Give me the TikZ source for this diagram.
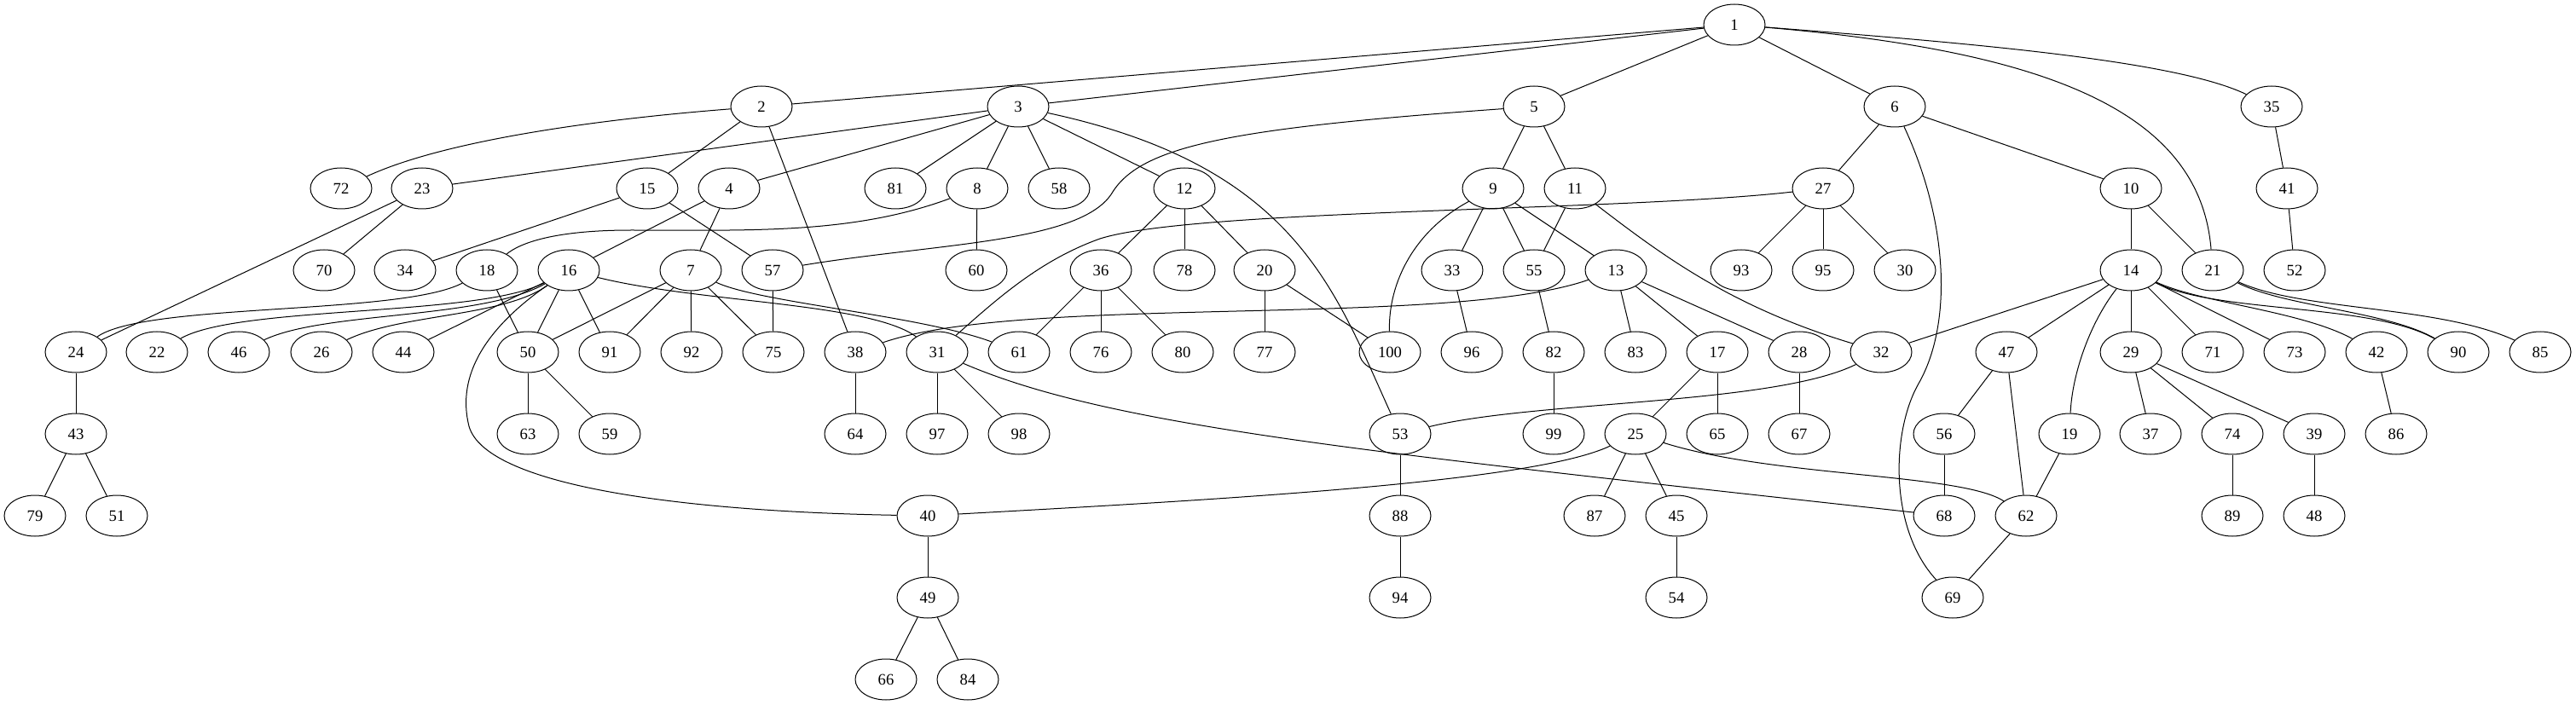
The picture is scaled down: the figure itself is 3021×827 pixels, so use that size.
\documentclass[tikz,border=0pt]{standalone}
\usepackage{fontspec}
\setmainfont{Liberation Serif}
\usetikzlibrary{shapes.geometric}
\begin{document}
\begin{tikzpicture}[x=0.75pt,y=-0.75pt,
  vx/.style={draw,ellipse,line width=0.75pt,minimum width=54pt,minimum height=36pt,inner sep=0pt,font=\fontsize{14}{16}\selectfont},
  ed/.style={line width=0.75pt}]
\useasboundingbox (0,0) rectangle (3021,827);
\foreach \n/\x/\r in {
 1/2034/0,
 2/893/1, 3/1194/1, 5/1799/1, 6/2222/1, 35/2664/1,
 72/400/2, 23/495/2, 15/759/2, 4/855/2, 81/1050/2, 8/1146/2, 58/1242/2, 12/1389/2, 9/1751/2, 11/1847/2, 27/2138/2, 10/2499/2, 41/2682/2,
 70/380/3, 34/475/3, 18/571/3, 16/667/3, 7/810/3, 57/906/3, 60/1145/3, 36/1291/3, 78/1389/3, 20/1483/3, 33/1703/3, 55/1799/3, 13/1895/3, 93/2042/3, 95/2138/3, 30/2234/3, 14/2499/3, 21/2595/3, 52/2691/3,
 24/89/4, 22/184/4, 46/280/4, 26/377/4, 44/473/4, 50/619/4, 91/715/4, 92/811/4, 75/907/4, 38/1003/4, 31/1099/4, 61/1195/4, 76/1291/4, 80/1387/4, 77/1483/4, 100/1630/4, 96/1726/4, 82/1822/4, 83/1918/4, 17/2014/4, 28/2110/4, 32/2206/4, 47/2353/4, 29/2499/4, 71/2595/4, 73/2691/4, 42/2787/4, 90/2883/4, 85/2979/4,
 43/89/5, 63/619/5, 59/715/5, 64/1003/5, 97/1099/5, 98/1195/5, 53/1642/5, 99/1822/5, 25/1918/5, 65/2014/5, 67/2110/5, 56/2280/5, 19/2427/5, 37/2522/5, 74/2618/5, 39/2714/5, 86/2810/5,
 79/41/6, 51/137/6, 40/1088/6, 88/1642/6, 87/1870/6, 45/1966/6, 68/2280/6, 62/2376/6, 89/2618/6, 48/2714/6,
 49/1088/7, 94/1642/7, 54/1966/7, 69/2290/7,
 66/1039/8, 84/1135/8}
 \node[vx] (n\n) at (\x,{29+96*\r}) {\n};
% straight edges
\foreach \a/\b in {1/2, 1/3, 1/5, 1/6, 2/15, 2/38, 3/23, 3/4, 3/81, 3/8, 3/58, 3/12, 5/9, 5/11, 6/27, 6/10, 35/41, 41/52, 23/70, 23/24, 15/34, 15/57, 4/16, 4/7, 8/60, 12/36, 12/78, 12/20, 9/33, 9/55, 9/13, 11/55, 27/93, 27/95, 27/30, 10/14, 10/21, 18/50, 16/44, 16/50, 16/91, 7/50, 7/91, 7/92, 7/75, 57/75, 36/61, 36/76, 36/80, 20/77, 20/100, 33/96, 55/82, 82/99, 13/83, 13/17, 13/28, 14/32, 14/47, 14/29, 14/71, 14/73, 17/25, 17/65, 28/67, 24/43, 43/79, 43/51, 50/63, 50/59, 38/64, 31/97, 31/98, 40/49, 49/66, 49/84, 53/88, 88/94, 25/87, 25/45, 45/54, 47/56, 47/62, 56/68, 19/62, 62/69, 29/37, 29/74, 29/39, 74/89, 39/48, 42/86}
 \draw[ed] (n\a) -- (n\b);
% curved edges
\draw[ed] (n1) .. controls (2300,50) and (2550,70) .. (n35);
\draw[ed] (n1) .. controls (2400,60) and (2580,130) .. (n21);
\draw[ed] (n2) .. controls (700,140) and (520,165) .. (n72);
\draw[ed] (n3) .. controls (1520,195) and (1565,340) .. (n53);
\draw[ed] (n5) .. controls (1450,150) and (1340,170) .. (1305,225) .. controls (1270,285) and (1100,285) .. (n57);
\draw[ed] (n8) .. controls (1000,275) and (880,270) .. (740,270) .. controls (650,270) and (610,285) .. (n18);
\draw[ed] (n18) .. controls (470,370) and (170,355) .. (n24);
\draw[ed] (n16) .. controls (560,372) and (280,358) .. (n22);
\draw[ed] (n16) .. controls (565,375) and (380,365) .. (n46);
\draw[ed] (n16) .. controls (590,372) and (470,368) .. (n26);
\draw[ed] (n16) .. controls (570,385) and (535,440) .. (550,500) .. controls (570,570) and (800,600) .. (n40);
\draw[ed] (n16) .. controls (820,355) and (1020,355) .. (n31);
\draw[ed] (n7) .. controls (890,355) and (1080,370) .. (n61);
\draw[ed] (n9) .. controls (1660,270) and (1628,330) .. (n100);
\draw[ed] (n11) .. controls (1950,300) and (2030,360) .. (n32);
\draw[ed] (n27) .. controls (1900,248) and (1400,245) .. (1290,280) .. controls (1220,305) and (1170,350) .. (n31);
\draw[ed] (n13) .. controls (1700,385) and (1200,345) .. (n38);
\draw[ed] (n6) .. controls (2285,260) and (2290,380) .. (2250,450) .. controls (2218,506) and (2215,620) .. (n69);
\draw[ed] (n14) .. controls (2450,380) and (2430,440) .. (n19);
\draw[ed] (n14) .. controls (2580,355) and (2700,365) .. (n42);
\draw[ed] (n14) .. controls (2600,368) and (2780,355) .. (n90);
\draw[ed] (n21) .. controls (2680,360) and (2800,365) .. (n90);
\draw[ed] (n21) .. controls (2700,365) and (2860,358) .. (n85);
\draw[ed] (n25) .. controls (1800,565) and (1450,585) .. (n40);
\draw[ed] (n31) .. controls (1300,500) and (1600,530) .. (n68);
\draw[ed] (n32) .. controls (2080,475) and (1800,470) .. (n53);
\draw[ed] (n25) .. controls (2080,560) and (2300,555) .. (n62);
\end{tikzpicture}
\end{document}
